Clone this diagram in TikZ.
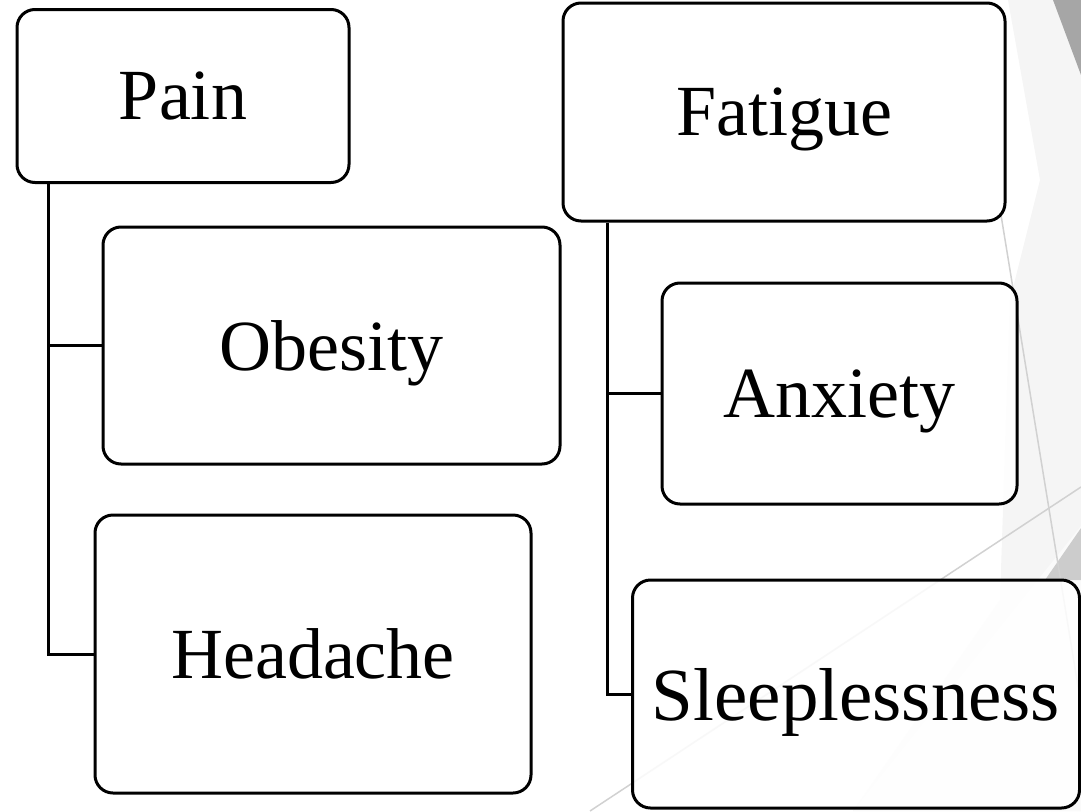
\documentclass[tikz,border=0pt]{standalone}
\usepackage{fontspec}
\setmainfont{Liberation Serif}
\begin{document}
\begin{tikzpicture}[x=1pt,y=-1pt,
  item/.style={draw=black, line width=3pt, rounded corners=18pt, fill=white, fill opacity=0.85, text opacity=1,
    inner sep=0pt, text depth=0pt, font=\fontsize{72}{80}\selectfont},
  link/.style={draw=black, line width=3pt},
  facetline/.style={draw=black!18, line width=1.5pt}]
\useasboundingbox (0,0) rectangle (1081,811);
% background facets
\fill[black!4] (1008,0) -- (1081,0) -- (1081,811) -- (853,811) -- (1000,600) -- (1010,300) -- (1040,180) -- cycle;
\fill[black!2] (853,811) -- (1081,526) -- (1081,811) -- cycle;
\fill[black!35] (1053,0) -- (1081,0) -- (1081,75) -- cycle;
\fill[black!20] (1045,580) -- (1081,528) -- (1081,580) -- cycle;
\draw[facetline] (1001,215) -- (1081,705);
\draw[facetline] (590,811) -- (1081,487);
% boxes
\node[item, minimum width=332pt, minimum height=173pt] (pain) at (183,96) {Pain};
\node[item, minimum width=457pt, minimum height=237pt] (obes) at (331.5,345.5) {Obesity};
\node[item, minimum width=436pt, minimum height=278pt] (head) at (313,654) {Headache};
\node[item, minimum width=442pt, minimum height=218pt] (fat) at (784,112) {Fatigue};
\node[item, minimum width=355pt, minimum height=221pt] (anx) at (839.5,393.5) {Anxiety};
\node[item, minimum width=447pt, minimum height=228pt, font=\fontsize{75}{84}\selectfont] (sleep) at (856,694) {Sleeplessness};
% connectors
\coordinate (pv) at ([xshift=33pt]pain.south west);
\coordinate (fv) at ([xshift=46pt]fat.south west);
\draw[link] (pv) |- (obes.west);
\draw[link] (pv) |- (head.west);
\draw[link] (fv) |- (anx.west);
\draw[link] (fv) |- (sleep.west);
\end{tikzpicture}
\end{document}
